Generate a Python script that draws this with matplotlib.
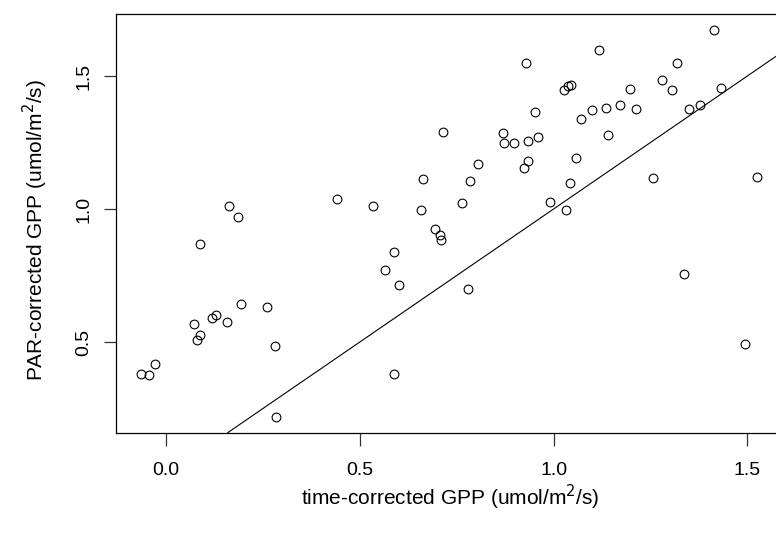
import numpy as np
import matplotlib
matplotlib.use('Agg')
import matplotlib.pyplot as plt

plt.rcParams['font.family'] = ['Liberation Sans', 'DejaVu Sans']

# time-corrected GPP vs PAR-corrected GPP (umol/m2/s)
time_gpp = [0.715, 0.663, 0.442, 0.533, 0.659, 0.161, 0.186,
            0.087, 0.695, 0.706, 0.709, 0.588, 0.564, 0.600, 0.194, 0.259,
            0.071, 0.119, 0.129, 0.157, 0.088, 0.080, 0.281, -0.028, -0.066,
            -0.045, 0.588, 0.284,
            1.413, 1.116, 0.929, 1.319, 1.280, 1.305, 1.432, 1.027, 1.036,
            1.046, 1.196, 0.951, 1.071, 1.098, 1.136, 1.171, 1.214, 1.350,
            1.378, 0.870, 0.873, 0.899, 0.934, 0.961, 1.140, 0.804, 0.934,
            0.923, 1.059, 0.783, 1.042, 1.256, 1.525, 0.764, 0.990, 1.031,
            0.779, 1.337, 1.494]
par_gpp = [1.289, 1.114, 1.037, 1.011, 0.996, 1.012, 0.971,
           0.868, 0.924, 0.903, 0.884, 0.837, 0.771, 0.714, 0.642, 0.632,
           0.566, 0.591, 0.600, 0.575, 0.525, 0.506, 0.484, 0.416, 0.381,
           0.374, 0.381, 0.217,
           1.674, 1.597, 1.551, 1.551, 1.484, 1.449, 1.454, 1.446, 1.462,
           1.467, 1.452, 1.366, 1.339, 1.372, 1.381, 1.391, 1.375, 1.375,
           1.391, 1.284, 1.247, 1.247, 1.257, 1.269, 1.279, 1.171, 1.182,
           1.155, 1.192, 1.104, 1.099, 1.115, 1.120, 1.022, 1.027, 0.997,
           0.698, 0.755, 0.492]

x = np.array(time_gpp)
y = np.array(par_gpp)


def r_lim(v):
    # base R style: data range padded by 4% on each side
    pad = 0.04 * (v.max() - v.min())
    return v.min() - pad, v.max() + pad


W, H = 776, 534
fig = plt.figure(figsize=(W / 100, H / 100), dpi=100)
ax = fig.add_axes([116 / W, 1 - 432.7 / H, (781.6 - 116) / W, (432.7 - 14.3) / H])

ax.plot(x, y, 'o', mfc='none', mec='black', ms=6.3, mew=0.8, clip_on=False)
ax.axline((0, 0), slope=1, color='black', lw=0.8)

ax.set_xlim(r_lim(x))
ax.set_ylim(r_lim(y))
ax.set_xticks([0.0, 0.5, 1.0, 1.5])
ax.set_yticks([0.5, 1.0, 1.5])
ax.set_xticklabels(['0.0', '0.5', '1.0', '1.5'])
ax.set_yticklabels(['0.5', '1.0', '1.5'], rotation=90, va='center')

for s in ax.spines.values():
    s.set_linewidth(0.9)
ax.tick_params(length=9, width=0.9, labelsize=14, color='#333333')
ax.tick_params(axis='x', pad=12)
ax.tick_params(axis='y', pad=8)

ax.set_xlabel('time-corrected GPP (umol/m$^2$/s)', fontsize=15)
ax.set_ylabel('PAR-corrected GPP (umol/m$^2$/s)', fontsize=15)
ax.xaxis.set_label_coords((450 - 116) / (781.6 - 116), -(497 - 432.7) / (432.7 - 14.3))
ax.yaxis.set_label_coords(-(116 - 35) / (781.6 - 116), (432.7 - 230) / (432.7 - 14.3))
ax.xaxis.label.set_va('center')
ax.yaxis.label.set_va('center')

fig.savefig('out.png', dpi=100)
